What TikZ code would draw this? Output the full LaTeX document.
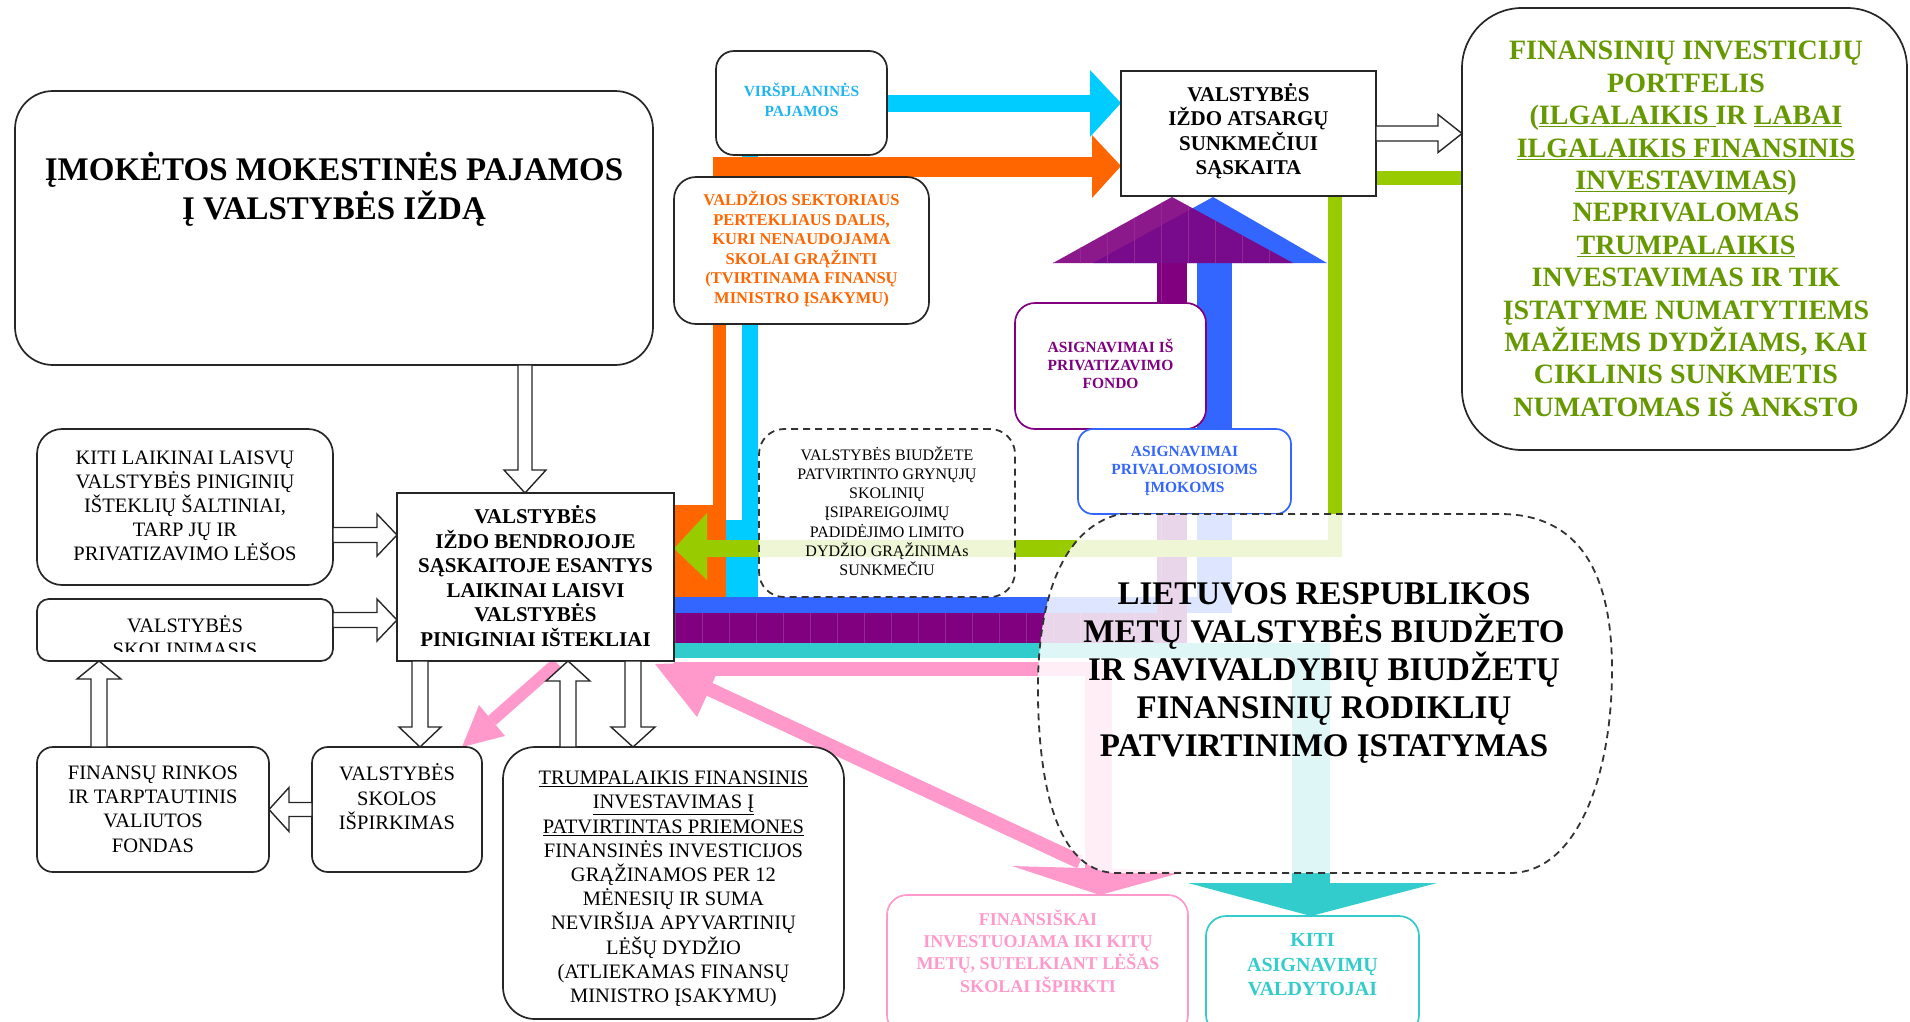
\documentclass[tikz,border=0pt]{standalone}
\usepackage{fontspec}
\setmainfont{Liberation Serif}
\usetikzlibrary{calc}

\definecolor{flowcyan}{RGB}{0,204,255}
\definecolor{floworange}{RGB}{255,102,0}
\definecolor{flowgreen}{RGB}{153,204,0}
\definecolor{flowblue}{RGB}{51,102,255}
\definecolor{flowpurple}{RGB}{128,0,128}
\definecolor{gridpurple}{RGB}{150,40,150}
\definecolor{flowteal}{RGB}{51,204,204}
\definecolor{flowpink}{RGB}{255,153,204}
\definecolor{txtgreen}{RGB}{102,153,0}
\definecolor{txtcyan}{RGB}{30,180,240}

% hollow block arrow: start, end, shaft half width, head half width, head length
\newcommand\hollowarrow[5]{%
  \coordinate (ha-s) at #1;
  \coordinate (ha-e) at #2;
  \coordinate (ha-b) at ($(ha-e)!#5!(ha-s)$);
  \draw[hollow] ($(ha-s)!#3!90:(ha-e)$) -- ($(ha-b)!#3!-90:(ha-s)$) -- ($(ha-b)!#4!-90:(ha-s)$)
    -- (ha-e) -- ($(ha-b)!#4!90:(ha-s)$) -- ($(ha-b)!#3!90:(ha-s)$) -- ($(ha-s)!#3!-90:(ha-e)$) -- cycle;
}

\begin{document}
\begin{tikzpicture}[x=1pt,y=-1pt,
  box/.style={draw=black!85,line width=1.7pt,fill=white,inner sep=0pt,outer sep=0pt},
  roundbox/.style={box,rounded corners=#1},
  hollow/.style={draw=black!85,line width=1.4pt,fill=white,line join=miter},
  lbl/.style={align=center,inner sep=0pt,outer sep=0pt,text=black},
  dashedline/.style={draw=black!80,line width=1.8pt,dash pattern=on 7pt off 5pt},
  veil/.style={fill=white,fill opacity=0.84}]

\useasboundingbox (0,0) rectangle (1910,1021);
\clip (0,0) rectangle (1910,1021);

% ---------- coloured flows ----------
% blue: to the reserve account
\fill[flowblue] (674,597) rectangle (1232,613);
\fill[flowblue] (1197,263) rectangle (1232,613);
\fill[flowblue] (1093,263) -- (1213,197) -- (1327,263) -- cycle;
% purple: privatisation fund, with its grid texture
\fill[flowpurple] (674,613) rectangle (1187,643);
\fill[flowpurple] (1157,263) rectangle (1187,643);
\fill[flowpurple,fill opacity=0.9] (1053,263) -- (1172,197) -- (1293,263) -- cycle;
\begin{scope}
  \clip (674,613) rectangle (1187,643) (1157,263) rectangle (1187,613)
        (1053,263) -- (1172,197) -- (1293,263) -- cycle;
  \draw[gridpurple,line width=0.6pt,step=27] (648,189) grid (1300,650);
\end{scope}
% teal: other appropriation managers
\fill[flowteal] (674,643) rectangle (1330,658);
\fill[flowteal] (1292,643) rectangle (1330,884);
\fill[flowteal] (1188,883) -- (1437,883) -- (1311,916) -- cycle;
% pink: financial investing until next year
\fill[flowpink] (674,662) rectangle (1112,676);
\fill[flowpink] (1085,662) rectangle (1112,870);
\fill[flowpink] (1012,866) -- (1187,871) -- (1100,895) -- cycle;
\fill[flowpink] (712,682.7) -- (1083,855.7) -- (1077,868.3) -- (706,695.3) -- cycle;
\fill[flowpink] (655,664) -- (722,662) -- (697,717) -- cycle;
\fill[flowpink] (561,667.5) -- (496,725) -- (488,716) -- (553,658.5) -- cycle;
\fill[flowpink] (505,736) -- (462,747) -- (479,705) -- cycle;
% cyan: above-plan revenue
\fill[flowcyan] (887,95) rectangle (1090,112);
\fill[flowcyan] (1090,70) -- (1121,103) -- (1090,137) -- cycle;
\fill[flowcyan] (742,155) rectangle (758,597);
\fill[flowcyan] (726,520) rectangle (758,597);
% orange: government sector surplus
\fill[floworange] (713,157) rectangle (1092,177);
\fill[floworange] (1092,135) -- (1121,166) -- (1092,198) -- cycle;
\fill[floworange] (713,157) rectangle (726,597);
\fill[floworange] (674,505) rectangle (726,597);
% green: return from the portfolio
\fill[flowgreen] (1328,171) rectangle (1462,185);
\fill[flowgreen] (1328,171) rectangle (1342,557);
\fill[flowgreen] (707,540) rectangle (1342,557);
\fill[flowgreen] (707,513) -- (674,548.5) -- (707,580) -- cycle;

% ---------- boxes ----------
\node[roundbox=38pt,minimum width=638pt,minimum height=274pt] (A) at (334,228) {};
\node[roundbox=18pt,minimum width=171pt,minimum height=104pt] (B) at (801.5,103) {};
\node[roundbox=22pt,minimum width=255pt,minimum height=147pt] (C) at (801.5,250.5) {};
\node[box,minimum width=255pt,minimum height=125pt] (D) at (1248.5,133.5) {};
\node[roundbox=60pt,minimum width=445pt,minimum height=442pt] (E) at (1684.5,229) {};
\node[box,minimum width=277pt,minimum height=168pt] (H) at (535.5,577) {};
\node[roundbox=25pt,minimum width=296pt,minimum height=156pt] (J) at (185,507) {};
\node[roundbox=12pt,minimum width=296pt,minimum height=62pt] (K) at (185,630) {};
\node[roundbox=16pt,minimum width=232pt,minimum height=125pt] (M) at (153,809.5) {};
\node[roundbox=16pt,minimum width=170pt,minimum height=125pt] (O) at (397,809.5) {};
\node[roundbox=32pt,minimum width=341pt,minimum height=272pt] (R) at (673.5,883) {};
\node[roundbox=20pt,draw=flowpurple,minimum width=191pt,minimum height=126pt] (PF) at (1110.5,366) {};
\node[roundbox=15pt,draw=flowblue,minimum width=213pt,minimum height=85pt] (PI) at (1184.5,471.5) {};
\node[roundbox=20pt,draw=flowpink,minimum width=301pt,minimum height=140pt] (FS) at (1037.5,965) {};
\node[roundbox=20pt,draw=flowteal,minimum width=213pt,minimum height=119pt] (KA) at (1312.5,975.5) {};

% dashed note box and the law outline, both see-through
\node[veil,dashedline,rounded corners=25pt,inner sep=0pt,minimum width=256pt,minimum height=168pt] (DB) at (887,513) {};
\path[veil,dashedline] (1120,514) -- (1500,514) .. controls (1590,514) and (1612,590) .. (1612,670)
  .. controls (1612,780) and (1575,873) .. (1510,873) -- (1117,873)
  .. controls (1062,873) and (1040,800) .. (1038,700)
  .. controls (1036,600) and (1062,528) .. (1120,514) -- cycle;

% ---------- hollow arrows ----------
\hollowarrow{($(A.south west)+(510,0)$)}{($(H.north west)+(128,0)$)}{7pt}{21pt}{23pt}
\hollowarrow{($(J.east)+(0,28)$)}{($(J.east -| H.west)+(0,28)$)}{7.5pt}{21pt}{20pt}
\hollowarrow{($(K.east)+(0,-10)$)}{($(K.east -| H.west)+(0,-10)$)}{7.5pt}{21pt}{20pt}
\hollowarrow{($(M.north)+(-54,0)$)}{($(M.north |- K.south)+(-54,0)$)}{8pt}{22pt}{18pt}
\hollowarrow{(O.west)}{(O.west -| M.east)}{7pt}{22pt}{20pt}
\hollowarrow{($(H.south)+(-115.5,0)$)}{($(H.south |- O.north)+(-115.5,0)$)}{8pt}{21pt}{20pt}
\hollowarrow{($(R.north)+(-105.5,0)$)}{($(R.north |- H.south)+(-105.5,0)$)}{8pt}{22pt}{20pt}
\hollowarrow{($(H.south)+(97.5,0)$)}{($(H.south |- R.north)+(97.5,0)$)}{8pt}{22pt}{20pt}
\hollowarrow{(D.east)}{(D.east -| E.west)}{7.5pt}{19pt}{24pt}

% ---------- texts ----------
\node[lbl,font=\bfseries\fontsize{33}{39}\selectfont] (At) at (334,189)
  {ĮMOKĖTOS MOKESTINĖS PAJAMOS\\Į VALSTYBĖS IŽDĄ};
\node[lbl,text=txtcyan,font=\bfseries\fontsize{15.5}{20}\selectfont] (Bt) at (801.5,100)
  {VIRŠPLANINĖS\\PAJAMOS};
\node[lbl,text=floworange,font=\bfseries\fontsize{16.5}{19.6}\selectfont] (Ct) at (801.5,249)
  {VALDŽIOS SEKTORIAUS\\PERTEKLIAUS DALIS,\\KURI NENAUDOJAMA\\SKOLAI GRĄŽINTI\\(TVIRTINAMA FINANSŲ\\MINISTRO ĮSAKYMU)};
\node[lbl,font=\bfseries\fontsize{21}{24.5}\selectfont] (Dt) at (1248.5,131)
  {VALSTYBĖS\\IŽDO ATSARGŲ\\SUNKMEČIUI\\SĄSKAITA};
\node[lbl,text=txtgreen,font=\bfseries\fontsize{28}{32.4}\selectfont] (Et) at (1686,229)
  {FINANSINIŲ INVESTICIJŲ\\PORTFELIS\\(\underline{ILGALAIKIS }IR \underline{LABAI}\\\underline{ILGALAIKIS FINANSINIS}\\\underline{INVESTAVIMAS})\\NEPRIVALOMAS\\\underline{TRUMPALAIKIS}\\INVESTAVIMAS IR TIK\\ĮSTATYME NUMATYTIEMS\\MAŽIEMS DYDŽIAMS, KAI\\CIKLINIS SUNKMETIS\\NUMATOMAS IŠ ANKSTO};
\node[lbl,font=\bfseries\fontsize{21}{24.6}\selectfont] (Ht) at (535.5,576)
  {VALSTYBĖS\\IŽDO BENDROJOJE\\SĄSKAITOJE ESANTYS\\LAIKINAI LAISVI\\VALSTYBĖS\\PINIGINIAI IŠTEKLIAI};
\node[lbl,font=\fontsize{20.5}{24}\selectfont] (Jt) at (185,506)
  {KITI LAIKINAI LAISVŲ\\VALSTYBĖS PINIGINIŲ\\IŠTEKLIŲ ŠALTINIAI,\\TARP JŲ IR\\PRIVATIZAVIMO LĖŠOS};
\begin{scope}
  \clip (K.north west) rectangle ($(K.south east)+(0,-10)$);
  \node[lbl,font=\fontsize{20.5}{24}\selectfont] (Kt) at (185,636) {VALSTYBĖS\\SKOLINIMASIS};
\end{scope}
\node[lbl,font=\fontsize{20.5}{24.4}\selectfont] (Mt) at (153,809)
  {FINANSŲ RINKOS\\IR TARPTAUTINIS\\VALIUTOS\\FONDAS};
\node[lbl,font=\fontsize{20.5}{24.5}\selectfont] (Ot) at (397,797)
  {VALSTYBĖS\\SKOLOS\\IŠPIRKIMAS};
\begin{scope}
  \clip (R.north west) rectangle ($(R.south east)+(0,-14)$);
  \node[lbl,font=\fontsize{20.5}{24.2}\selectfont] (Rt) at (673.5,889)
    {\underline{TRUMPALAIKIS FINANSINIS}\\\underline{INVESTAVIMAS Į}\\\underline{PATVIRTINTAS PRIEMONES}\\FINANSINĖS INVESTICIJOS\\GRĄŽINAMOS PER 12\\MĖNESIŲ IR SUMA\\NEVIRŠIJA APYVARTINIŲ\\LĖŠŲ DYDŽIO\\(ATLIEKAMAS FINANSŲ\\MINISTRO ĮSAKYMU)};
\end{scope}
\node[lbl,font=\fontsize{16}{19.2}\selectfont] (DBt) at (887,511)
  {VALSTYBĖS BIUDŽETE\\PATVIRTINTO GRYNŲJŲ\\SKOLINIŲ\\ĮSIPAREIGOJIMŲ\\PADIDĖJIMO LIMITO\\DYDŽIO GRĄŽINIMAs\\SUNKMEČIU};
\node[lbl,text=flowpurple,font=\bfseries\fontsize{15.5}{18}\selectfont] (PFt) at (1110.5,364)
  {ASIGNAVIMAI IŠ\\PRIVATIZAVIMO\\FONDO};
\node[lbl,text=flowblue,font=\bfseries\fontsize{15.5}{18}\selectfont] (PIt) at (1184.5,471)
  {ASIGNAVIMAI\\PRIVALOMOSIOMS\\ĮMOKOMS};
\node[lbl,font=\bfseries\fontsize{33}{37.8}\selectfont] (Lt) at (1324,673)
  {LIETUVOS RESPUBLIKOS\\METŲ VALSTYBĖS BIUDŽETO\\IR SAVIVALDYBIŲ BIUDŽETŲ\\FINANSINIŲ RODIKLIŲ\\PATVIRTINIMO ĮSTATYMAS};
\node[lbl,text=flowpink,font=\bfseries\fontsize{18}{22.3}\selectfont] (FSt) at (1038,951)
  {FINANSIŠKAI\\INVESTUOJAMA IKI KITŲ\\METŲ, SUTELKIANT LĖŠAS\\SKOLAI IŠPIRKTI};
\node[lbl,text=flowteal,font=\bfseries\fontsize{20}{24.5}\selectfont] (KAt) at (1312.5,965)
  {KITI\\ASIGNAVIMŲ\\VALDYTOJAI};
\end{tikzpicture}
\end{document}
